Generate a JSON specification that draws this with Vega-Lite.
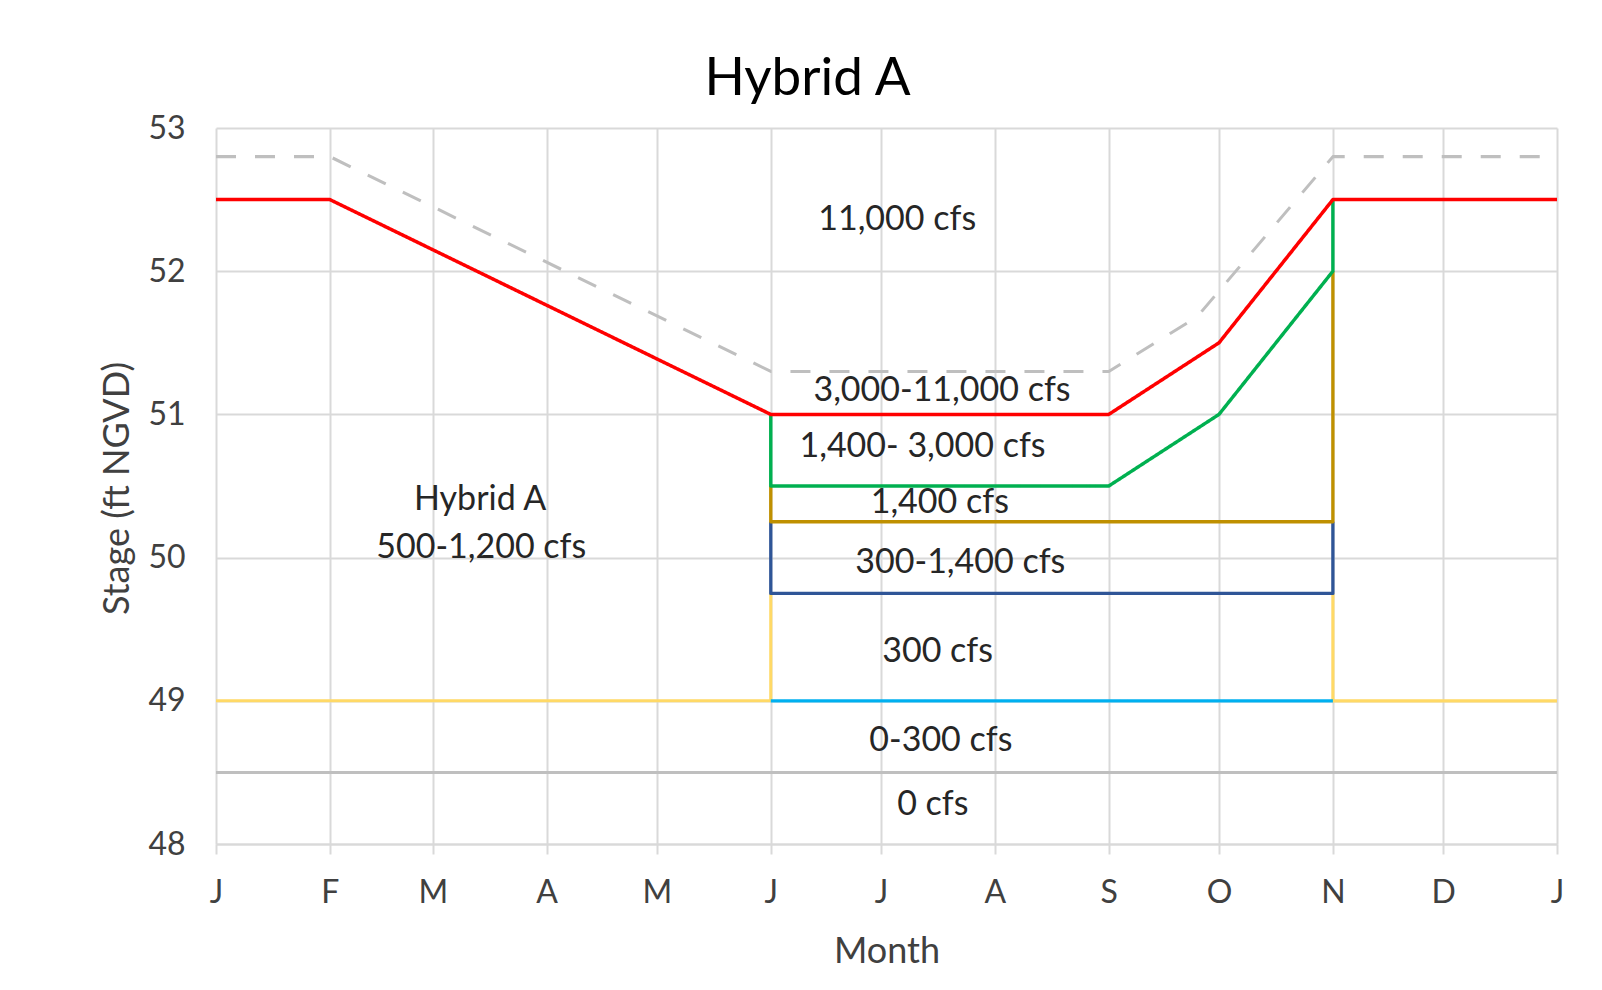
{
  "$schema": "https://vega.github.io/schema/vega-lite/v6.json",
  "autosize": "none",
  "width": 1341,
  "height": 716,
  "padding": {"left": 216, "top": 128, "right": 45, "bottom": 146},
  "background": "white",
  "config": {
    "font": "Lato",
    "view": {"stroke": null}
  },
  "title": {
    "text": "Hybrid A",
    "fontSize": 53,
    "fontWeight": "normal",
    "color": "#000000",
    "font": "Lato",
    "anchor": "middle",
    "frame": "group",
    "dx": -79,
    "offset": 6
  },
  "datasets": {
    "lines": [
      {"series": "0 cfs line", "order": 1, "day": 0, "stage": 48.5},
      {"series": "0 cfs line", "order": 2, "day": 365, "stage": 48.5},
      {"series": "Upper", "order": 1, "day": 0, "stage": 52.8},
      {"series": "Upper", "order": 2, "day": 31, "stage": 52.8},
      {"series": "Upper", "order": 3, "day": 151, "stage": 51.3},
      {"series": "Upper", "order": 4, "day": 243, "stage": 51.3},
      {"series": "Upper", "order": 5, "day": 267, "stage": 51.68},
      {"series": "Upper", "order": 6, "day": 304, "stage": 52.8},
      {"series": "Upper", "order": 7, "day": 365, "stage": 52.8},
      {"series": "300 cfs a", "order": 1, "day": 0, "stage": 49},
      {"series": "300 cfs a", "order": 2, "day": 151, "stage": 49},
      {"series": "300 cfs a", "order": 3, "day": 151, "stage": 49.75},
      {"series": "300 cfs b", "order": 1, "day": 304, "stage": 49.75},
      {"series": "300 cfs b", "order": 2, "day": 304, "stage": 49},
      {"series": "300 cfs b", "order": 3, "day": 365, "stage": 49},
      {"series": "0-300 cfs", "order": 1, "day": 151, "stage": 49},
      {"series": "0-300 cfs", "order": 2, "day": 304, "stage": 49},
      {"series": "300-1,400 cfs", "order": 1, "day": 151, "stage": 50.25},
      {"series": "300-1,400 cfs", "order": 2, "day": 151, "stage": 49.75},
      {"series": "300-1,400 cfs", "order": 3, "day": 304, "stage": 49.75},
      {"series": "300-1,400 cfs", "order": 4, "day": 304, "stage": 50.25},
      {"series": "1,400 cfs", "order": 1, "day": 151, "stage": 50.5},
      {"series": "1,400 cfs", "order": 2, "day": 151, "stage": 50.25},
      {"series": "1,400 cfs", "order": 3, "day": 304, "stage": 50.25},
      {"series": "1,400 cfs", "order": 4, "day": 304, "stage": 52.0},
      {"series": "1,400-3,000 cfs", "order": 1, "day": 151, "stage": 51.0},
      {"series": "1,400-3,000 cfs", "order": 2, "day": 151, "stage": 50.5},
      {"series": "1,400-3,000 cfs", "order": 3, "day": 243, "stage": 50.5},
      {"series": "1,400-3,000 cfs", "order": 4, "day": 273, "stage": 51.0},
      {"series": "1,400-3,000 cfs", "order": 5, "day": 304, "stage": 52.0},
      {"series": "1,400-3,000 cfs", "order": 6, "day": 304, "stage": 52.5},
      {"series": "3,000-11,000 cfs", "order": 1, "day": 0, "stage": 52.5},
      {"series": "3,000-11,000 cfs", "order": 2, "day": 31, "stage": 52.5},
      {"series": "3,000-11,000 cfs", "order": 3, "day": 151, "stage": 51.0},
      {"series": "3,000-11,000 cfs", "order": 4, "day": 243, "stage": 51.0},
      {"series": "3,000-11,000 cfs", "order": 5, "day": 273, "stage": 51.5},
      {"series": "3,000-11,000 cfs", "order": 6, "day": 304, "stage": 52.5},
      {"series": "3,000-11,000 cfs", "order": 7, "day": 365, "stage": 52.5}
    ],
    "labels": [
      {"day": 185.4, "stage": 52.36, "text": "11,000 cfs"},
      {"day": 197.6, "stage": 51.16, "text": "3,000-11,000 cfs"},
      {"day": 192.3, "stage": 50.77, "text": "1,400- 3,000 cfs"},
      {"day": 197.0, "stage": 50.38, "text": "1,400 cfs"},
      {"day": 202.6, "stage": 49.96, "text": "300-1,400 cfs"},
      {"day": 196.4, "stage": 49.34, "text": "300 cfs"},
      {"day": 197.3, "stage": 48.72, "text": "0-300 cfs"},
      {"day": 195.1, "stage": 48.27, "text": "0 cfs"},
      {"day": 71.9, "stage": 50.40, "text": "Hybrid A"},
      {"day": 72.2, "stage": 50.07, "text": "500-1,200 cfs"}
    ]
  },
  "layer": [
    {
      "data": {"name": "lines"},
      "mark": {"type": "line", "strokeCap": "butt", "strokeJoin": "round"},
      "encoding": {
        "x": {
          "field": "day",
          "type": "quantitative",
          "scale": {"domain": [0, 365], "nice": false, "zero": false},
          "axis": {
            "title": "Month",
            "titleFontSize": 36,
            "titleFontWeight": "normal",
            "titleColor": "#404040",
            "titleBaseline": "alphabetic",
            "titleY": 118,
            "values": [0, 31, 59, 90, 120, 151, 181, 212, 243, 273, 304, 334, 365],
            "labelExpr": "['J','F','M','A','M','J','J','A','S','O','N','D','J'][indexof([0,31,59,90,120,151,181,212,243,273,304,334,365], datum.value)]",
            "labelFontSize": 32,
            "labelColor": "#404040",
            "labelPadding": 23,
            "labelFlush": false,
            "labelOverlap": false,
            "grid": true,
            "gridColor": "#D9D9D9",
            "gridWidth": 2,
            "domain": true,
            "domainColor": "#D9D9D9",
            "domainWidth": 2,
            "ticks": true,
            "tickColor": "#D9D9D9",
            "tickWidth": 2,
            "tickSize": 10
          }
        },
        "y": {
          "field": "stage",
          "type": "quantitative",
          "scale": {"domain": [48, 53], "nice": false, "zero": false},
          "axis": {
            "title": "Stage (ft NGVD)",
            "titleFontSize": 36,
            "titleFontWeight": "normal",
            "titleColor": "#404040",
            "titleX": -88,
            "titleY": 360,
            "titleAngle": -90,
            "titleAlign": "center",
            "titleBaseline": "alphabetic",
            "values": [48, 49, 50, 51, 52, 53],
            "format": "d",
            "labelFontSize": 32,
            "labelColor": "#404040",
            "labelPadding": 31,
            "labelFlush": false,
            "grid": true,
            "gridColor": "#D9D9D9",
            "gridWidth": 2,
            "domain": false,
            "ticks": false
          }
        },
        "detail": {"field": "series"},
        "order": {"field": "order", "type": "quantitative"},
        "color": {
          "field": "series",
          "type": "nominal",
          "legend": null,
          "scale": {
            "domain": ["0 cfs line", "Upper", "300 cfs a", "300 cfs b", "0-300 cfs", "300-1,400 cfs", "1,400 cfs", "1,400-3,000 cfs", "3,000-11,000 cfs"],
            "range": ["#BFBFBF", "#BFBFBF", "#FFD966", "#FFD966", "#00B0F0", "#2F5597", "#BF9000", "#00B050", "#FF0000"]
          }
        },
        "strokeDash": {
          "field": "series",
          "type": "nominal",
          "legend": null,
          "scale": {
            "domain": ["0 cfs line", "Upper", "300 cfs a", "300 cfs b", "0-300 cfs", "300-1,400 cfs", "1,400 cfs", "1,400-3,000 cfs", "3,000-11,000 cfs"],
            "range": [[1, 0], [20, 19], [1, 0], [1, 0], [1, 0], [1, 0], [1, 0], [1, 0], [1, 0]]
          }
        },
        "strokeWidth": {
          "field": "series",
          "type": "nominal",
          "legend": null,
          "scale": {
            "domain": ["0 cfs line", "Upper", "300 cfs a", "300 cfs b", "0-300 cfs", "300-1,400 cfs", "1,400 cfs", "1,400-3,000 cfs", "3,000-11,000 cfs"],
            "range": [3, 3.5, 3, 3, 3.5, 3.5, 3.5, 3.5, 4.5]
          }
        }
      }
    },
    {
      "data": {"name": "labels"},
      "mark": {"type": "text", "fontSize": 34, "color": "#262626", "align": "center", "baseline": "middle"},
      "encoding": {
        "x": {"field": "day", "type": "quantitative"},
        "y": {"field": "stage", "type": "quantitative"},
        "text": {"field": "text"}
      }
    }
  ]
}
